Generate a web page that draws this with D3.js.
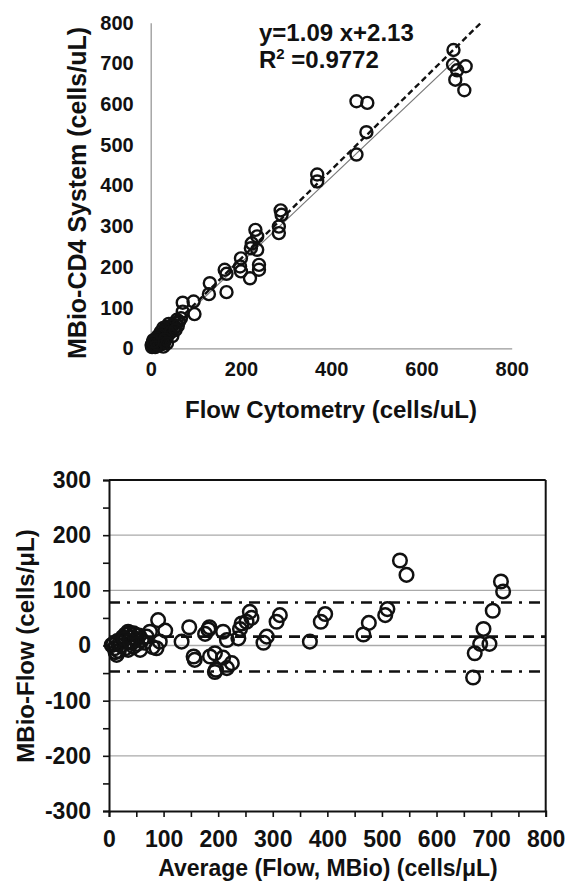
<!DOCTYPE html>
<html>
<head>
<meta charset="utf-8">
<script src="https://d3js.org/d3.v7.min.js"></script>
<style>
  body { margin: 0; background: #fff; }
  svg text { font-family: "Liberation Sans", Arial, sans-serif; font-weight: bold; fill: #111; }
</style>
</head>
<body>
<svg id="chart" width="570" height="884"></svg>
<script>
// top panel: MBio vs flow cytometry
var flowCounts = [671,670,679,675,698,695,456,480,478,456,369,369,288,290,284,284,232,236,224,222,236,240,240,220,200,198,200,164,168,168,131,129,71,95,97,71,67,63,58,55,50,52,45,42,40,38,35,33,30,30,28,25,24,22,20,18,16,15,14,12,10,8,6,5,4,2,3,28,25,30,35,40,45,48,20,12,18,60,55,8,15,22,26,32,36,10,5];
var mbioCounts = [733,697,683,660,693,634,607,603,531,476,427,410,339,328,299,283,291,275,258,246,242,205,193,172,221,201,189,193,183,138,160,133,112,115,84,90,74,66,70,62,58,50,55,48,60,42,53,45,40,30,50,36,28,40,32,22,30,18,25,14,20,10,20,12,6,8,3,4,10,15,25,35,40,30,12,5,8,55,45,15,10,20,18,22,12,3,16];
var topXTicks = [0, 200, 400, 600, 800];
var topYTicks = [0, 100, 200, 300, 400, 500, 600, 700, 800];
var fitSlope = 1.09, fitIntercept = 2.13, fitR2 = "0.9772";
var refSlope = 1.05, refEnd = 675;

// bottom panel: Bland-Altman
var avgCounts = [533,545,718,722,703,686,680,697,670,667,510,506,476,466,396,388,368,313,307,289,283,258,261,252,243,237,240,225,216,216,209,209,196,194,194,185,182,176,184,157,155,147,133,103,93,90,87,69,57,38,26,14,5,45,60,30,35,40,42,20,18,12,10,25,22,50,48,30,35,15,8,45,55,65,75,80,28,38,52];
var diffCounts = [154,128,116,98,63,30,3,3,-14,-58,66,55,41,20,57,43,7,55,43,16,5,61,50,43,40,13,30,-32,-41,10,25,-22,-44,-48,-14,-20,29,21,33,-26,-20,33,7,27,7,46,-5,16,-8,22,10,-17,1,-2,10,20,25,15,5,5,-10,-12,-5,15,0,12,20,-5,-8,8,3,22,18,5,25,-3,12,8,3];
var botMinorTicks = [-300, -250, -200, -150, -100, -50, 0, 50, 100, 150, 200, 250, 300];
var botXMinorTicks = [0, 50, 100, 150, 200, 250, 300, 350, 400, 450, 500, 550, 600, 650, 700, 750, 800];
var gridValues = [-200, -100, 0, 100, 200];
var meanDiff = 16, upperLimit = 78, lowerLimit = -47;

var svg = d3.select("#chart");

// ---------- top chart ----------
var x1 = d3.scaleLinear().domain([0, 800]).range([150.7, 511.7]);
var y1 = d3.scaleLinear().domain([0, 800]).range([348.3, 22.7]);

var gx1 = svg.append("g").attr("transform", "translate(0,348.3)")
  .call(d3.axisBottom(x1).tickValues(topXTicks).tickSize(0).tickPadding(14));
var gy1 = svg.append("g").attr("transform", "translate(150.7,0)")
  .call(d3.axisLeft(y1).tickValues(topYTicks).tickSize(0).tickPadding(17));
[gx1, gy1].forEach(function (g) {
  g.select(".domain").attr("stroke", "#999").attr("stroke-width", 1.3);
  g.selectAll("text").style("font-size", "20px").attr("fill", "#111");
});

svg.append("line")
  .attr("x1", x1(0)).attr("y1", y1(0))
  .attr("x2", x1(refEnd)).attr("y2", y1(refSlope * refEnd))
  .attr("stroke", "#777").attr("stroke-width", 1.2);

var fitEnd = (800 - fitIntercept) / fitSlope;
svg.append("line")
  .attr("x1", x1(0)).attr("y1", y1(fitIntercept))
  .attr("x2", x1(fitEnd)).attr("y2", y1(800))
  .attr("stroke", "#111").attr("stroke-width", 2.4)
  .attr("stroke-dasharray", "6,3.5");

svg.append("g").selectAll("circle")
  .data(flowCounts)
  .enter().append("circle")
  .attr("cx", function (d) { return x1(d); })
  .attr("cy", function (d, i) { return y1(mbioCounts[i]); })
  .attr("r", 6)
  .attr("fill", "none")
  .attr("stroke", "#111")
  .attr("stroke-width", 2.4);

svg.append("text").attr("x", 259).attr("y", 41).style("font-size", "24px")
  .text("y=" + fitSlope + " x+" + fitIntercept);
var r2 = svg.append("text").attr("x", 259).attr("y", 68).style("font-size", "24px");
r2.append("tspan").text("R");
r2.append("tspan").attr("dy", -9).style("font-size", "15px").text("2");
r2.append("tspan").attr("dy", 9).text(" =" + fitR2);

svg.append("text").attr("x", 331).attr("y", 418).attr("text-anchor", "middle")
  .style("font-size", "24px").text("Flow Cytometry (cells/uL)");
svg.append("text").attr("transform", "translate(86,193) rotate(-90)")
  .attr("text-anchor", "middle").style("font-size", "25px")
  .text("MBio-CD4 System (cells/uL)");

// ---------- bottom chart ----------
var x2 = d3.scaleLinear().domain([0, 800]).range([109, 545.7]);
var y2 = d3.scaleLinear().domain([-300, 300]).range([811, 480]);

svg.append("g").selectAll("line")
  .data(gridValues)
  .enter().append("line")
  .attr("x1", x2(0)).attr("x2", x2(800))
  .attr("y1", function (d) { return y2(d); })
  .attr("y2", function (d) { return y2(d); })
  .attr("stroke", "#aaa").attr("stroke-width", 1.4);

// frame top and right
svg.append("line").attr("x1", x2(0)).attr("x2", x2(800))
  .attr("y1", y2(300)).attr("y2", y2(300)).attr("stroke", "#111").attr("stroke-width", 2);
svg.append("line").attr("x1", x2(800)).attr("x2", x2(800))
  .attr("y1", y2(300)).attr("y2", y2(-300)).attr("stroke", "#111").attr("stroke-width", 2);

var gy2 = svg.append("g").attr("transform", "translate(109,0)")
  .call(d3.axisLeft(y2).tickValues(botMinorTicks).tickSizeOuter(0).tickSize(6).tickPadding(12)
    .tickFormat(function (d) { return d % 100 === 0 ? d : ""; }));
var gx2 = svg.append("g").attr("transform", "translate(0,811)")
  .call(d3.axisBottom(x2).tickValues(botXMinorTicks).tickSizeOuter(0).tickSize(6).tickPadding(14)
    .tickFormat(function (d) { return d % 100 === 0 ? d : ""; }));
[gx2, gy2].forEach(function (g) {
  g.select(".domain").attr("stroke", "#111").attr("stroke-width", 2);
  g.selectAll(".tick line").attr("stroke", "#111").attr("stroke-width", 1.6);
  g.selectAll("text").style("font-size", "23px").attr("fill", "#111");
});
gy2.selectAll(".tick text").attr("x", -18);

function refLine(v, dash) {
  svg.append("line")
    .attr("x1", x2(0)).attr("x2", x2(800))
    .attr("y1", y2(v)).attr("y2", y2(v))
    .attr("stroke", "#111").attr("stroke-width", 2.6)
    .attr("stroke-dasharray", dash);
}
refLine(upperLimit, "11,7,3,7");
refLine(meanDiff, "11,7");
refLine(lowerLimit, "11,7,3,7");

svg.append("g").selectAll("circle")
  .data(avgCounts)
  .enter().append("circle")
  .attr("cx", function (d) { return x2(d); })
  .attr("cy", function (d, i) { return y2(diffCounts[i]); })
  .attr("r", 6.8)
  .attr("fill", "none")
  .attr("stroke", "#111")
  .attr("stroke-width", 2.5);

svg.append("text").attr("x", 328).attr("y", 876).attr("text-anchor", "middle")
  .style("font-size", "23px").text("Average (Flow, MBio) (cells/\u03bcL)");
svg.append("text").attr("transform", "translate(34,646) rotate(-90)")
  .attr("text-anchor", "middle").style("font-size", "24px")
  .text("MBio-Flow (cells/\u03bcL)");
</script>
</body>
</html>
